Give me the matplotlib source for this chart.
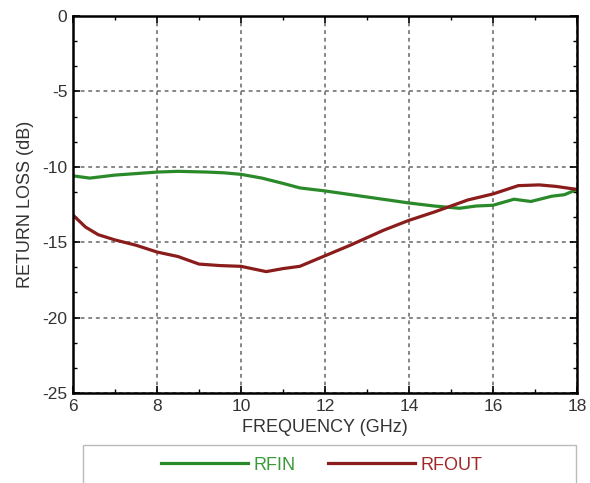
import numpy as np
import matplotlib.pyplot as plt
from matplotlib.patches import Rectangle
from matplotlib.ticker import MultipleLocator

plt.rcParams['font.family'] = ['Liberation Sans', 'DejaVu Sans']
plt.rcParams['axes.unicode_minus'] = False

# return loss
freq_in = [6.0, 6.4, 7.0, 7.5, 8.0, 8.5, 9.2, 9.6, 10.0, 10.5, 11.0, 11.4, 12.0,
           12.5, 13.0, 13.5, 14.0, 14.6, 15.2, 15.6, 16.0, 16.5, 16.9, 17.4, 17.7, 18.0]
rfin = [-10.6, -10.75, -10.55, -10.45, -10.35, -10.3, -10.35, -10.4, -10.5, -10.75,
        -11.1, -11.4, -11.6, -11.8, -12.0, -12.2, -12.4, -12.6, -12.75, -12.6,
        -12.55, -12.15, -12.3, -11.95, -11.85, -11.5]

freq_out = [6.0, 6.3, 6.6, 7.0, 7.5, 8.0, 8.5, 9.0, 9.5, 10.0, 10.6, 11.0, 11.4,
            12.0, 12.6, 13.4, 14.0, 14.6, 15.0, 15.4, 16.0, 16.6, 17.1, 17.5, 18.0]
rfout = [-13.2, -14.0, -14.5, -14.85, -15.2, -15.65, -15.95, -16.45, -16.55, -16.6,
         -16.95, -16.75, -16.6, -15.9, -15.2, -14.2, -13.55, -13.0, -12.6, -12.2,
         -11.8, -11.25, -11.2, -11.3, -11.5]

x_ticks = [6, 8, 10, 12, 14, 16, 18]
y_ticks = [0, -5, -10, -15, -20, -25]

fig = plt.figure(figsize=(5.9, 4.83), dpi=100)
ax = fig.add_axes([0.1237, 0.1863, 0.8543, 0.7806])

ax.plot(freq_in, rfin, color='#2a8a2a', linewidth=2.3, label='RFIN')
ax.plot(freq_out, rfout, color='#8b1c1c', linewidth=2.3, label='RFOUT')

ax.set_xlim(6, 18)
ax.set_ylim(-25, 0)
ax.set_xticks(x_ticks)
ax.set_yticks(y_ticks)
ax.xaxis.set_minor_locator(MultipleLocator(1))
ax.yaxis.set_minor_locator(MultipleLocator(5 / 3))
ax.tick_params(which='both', direction='in', top=True, right=True, labelsize=12.5,
               labelcolor='#333333', pad=4)
ax.tick_params(which='major', length=5, width=1.2)
ax.tick_params(which='minor', length=3, width=1.0)
for s in ax.spines.values():
    s.set_linewidth(1.8)

ax.grid(True, which='major', color='#666666', linestyle=(0, (2.5, 2.5)), linewidth=1.1)

ax.set_xlabel('FREQUENCY (GHz)', fontsize=13, color='#333333', labelpad=4)
ax.set_ylabel('RETURN LOSS (dB)', fontsize=13, color='#333333', labelpad=6)

# legend box below the plot
fig.patches.append(Rectangle((0.1407, -0.02), 0.835, 0.0987, transform=fig.transFigure,
                             fill=False, edgecolor='#bbbbbb', linewidth=1.0))
leg = fig.legend(loc='center', bbox_to_anchor=(0.545, 0.037), ncol=2, frameon=False,
                 fontsize=13, handlelength=4.8, handletextpad=0.3, columnspacing=1.8)
for txt, c in zip(leg.get_texts(), ['#3a9a3a', '#a02828']):
    txt.set_color(c)

fig.savefig('out.png', dpi=100)
